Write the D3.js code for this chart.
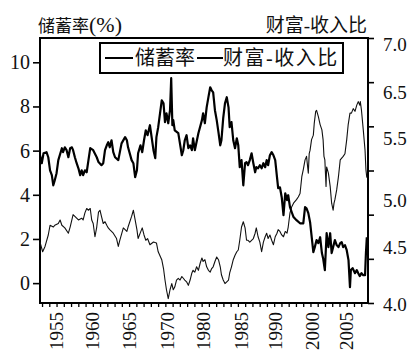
<!DOCTYPE html>
<html><head><meta charset="utf-8">
<script src="https://cdn.jsdelivr.net/npm/d3@7"></script>
<style>
html,body{margin:0;padding:0;background:#fff;}
svg{display:block;}
</style></head><body>
<svg id="chart" width="410" height="352"></svg>
<script>
// Personal saving rate (%) — [year, value]
const savings = [
[1953.0,5.79],[1953.3,5.43],[1953.6,5.88],[1954.1,5.93],[1954.4,5.70],[1954.7,5.11],[1955.0,4.89],[1955.25,4.43],
[1955.5,4.66],[1955.8,4.98],[1956.1,5.57],[1956.7,6.11],[1956.9,5.93],[1957.2,6.15],[1957.5,6.02],[1957.8,5.70],
[1958.1,6.11],[1958.4,6.15],[1958.6,6.02],[1958.9,5.70],[1959.2,5.43],[1959.5,5.20],[1959.8,4.89],[1960.05,5.11],
[1960.3,4.89],[1960.6,5.11],[1960.9,5.02],[1961.2,5.57],[1961.5,6.11],[1962.0,6.02],[1962.6,5.70],[1962.9,5.48],
[1963.4,5.34],[1963.7,5.43],[1964.0,6.02],[1964.3,6.24],[1964.55,6.38],[1964.8,6.15],[1965.1,6.47],[1965.4,5.93],
[1965.7,5.70],[1966.25,5.57],[1966.8,6.33],[1967.4,6.61],[1967.7,6.47],[1967.9,6.15],[1968.5,5.57],[1968.8,5.43],
[1969.1,4.80],[1969.4,5.11],[1969.6,5.88],[1970.0,6.24],[1970.3,5.93],[1970.6,6.47],[1970.9,6.92],[1971.2,6.70],
[1971.6,7.15],[1972.2,6.02],[1972.5,5.66],[1972.7,6.61],[1973.0,7.06],[1973.6,8.28],[1973.9,8.14],[1974.15,7.29],
[1974.4,7.69],[1974.7,7.24],[1975.0,7.83],[1975.2,9.28],[1975.4,7.15],[1975.55,7.38],[1975.8,6.92],[1976.4,6.79],
[1977.0,5.79],[1977.25,6.02],[1977.5,6.47],[1977.8,6.70],[1978.1,6.11],[1978.4,6.24],[1978.7,6.02],[1978.9,6.56],
[1979.2,6.02],[1979.8,6.79],[1980.4,7.38],[1980.6,7.69],[1980.9,7.24],[1981.2,7.96],[1981.5,8.42],[1981.8,8.87],
[1982.05,8.73],[1982.3,8.64],[1982.6,7.83],[1982.9,7.38],[1983.2,6.83],[1983.5,6.24],[1983.7,6.47],[1984.0,7.47],
[1984.3,8.14],[1984.6,8.42],[1984.9,7.96],[1985.1,7.06],[1985.4,7.29],[1985.7,6.47],[1986.0,6.11],[1986.3,6.56],
[1986.55,6.24],[1986.8,5.25],[1987.1,5.57],[1987.4,4.43],[1987.7,5.43],[1987.95,5.48],[1988.2,5.34],[1988.5,5.57],
[1988.8,5.88],[1989.1,5.43],[1989.4,5.02],[1989.6,5.25],[1989.9,5.20],[1990.2,5.34],[1990.5,5.20],[1990.8,5.43],
[1991.1,5.25],[1991.35,5.57],[1991.6,5.34],[1991.9,5.79],[1992.2,5.93],[1992.5,5.79],[1992.8,5.57],[1993.1,4.80],
[1993.3,4.30],[1993.6,4.34],[1993.9,3.89],[1994.2,3.08],[1994.5,4.07],[1994.8,3.76],[1995.0,3.98],[1995.3,3.44],
[1995.6,3.21],[1995.9,2.99],[1996.4,2.85],[1997.0,2.71],[1997.55,2.71],[1997.85,3.44],[1998.1,3.39],[1998.4,3.17],
[1998.7,2.76],[1999.25,1.40],[1999.5,1.63],[1999.8,1.95],[2000.1,1.81],[2000.4,2.08],[2000.7,1.36],[2000.9,1.13],
[2001.2,0.59],[2001.5,2.26],[2001.8,1.63],[2002.1,2.26],[2002.35,1.36],[2002.6,1.63],[2002.9,1.95],[2003.2,1.72],
[2003.5,1.63],[2003.8,1.81],[2004.05,1.86],[2004.3,1.63],[2004.6,1.72],[2004.9,1.49],[2005.2,1.04],[2005.45,-0.18],
[2005.6,0.59],[2005.9,0.68],[2006.3,0.45],[2006.6,0.59],[2006.85,0.45],[2007.1,0.32],[2007.4,0.45],[2007.7,0.36],
[2008.0,0.36],[2008.15,1.36],[2008.3,2.08]
];

// Household wealth-to-income ratio — [year, value]
const wealth = [
[1953.0,4.69],[1953.45,4.58],[1953.85,4.64],[1954.4,4.77],[1954.7,4.88],[1955.25,4.86],[1955.5,4.88],[1956.1,4.90],
[1956.4,4.94],[1956.7,4.88],[1957.2,4.85],[1957.8,4.79],[1958.1,4.86],[1958.6,5.00],[1958.9,4.98],[1959.5,4.94],
[1960.05,4.96],[1960.3,4.94],[1960.6,5.02],[1960.9,5.07],[1961.2,5.05],[1961.5,5.07],[1961.75,4.94],[1962.0,4.90],
[1962.3,4.75],[1962.6,4.86],[1962.9,5.03],[1963.15,5.05],[1963.4,4.98],[1963.7,4.90],[1964.0,4.92],[1964.3,4.88],
[1964.55,4.85],[1964.8,4.83],[1965.4,4.79],[1965.95,4.73],[1966.25,4.64],[1966.5,4.71],[1967.1,4.85],[1967.7,4.81],
[1967.9,4.86],[1968.5,4.98],[1968.8,5.05],[1969.1,4.94],[1969.4,4.83],[1969.6,4.73],[1970.0,4.80],[1970.3,4.85],
[1970.6,4.77],[1970.9,4.71],[1971.2,4.73],[1971.6,4.66],[1972.2,4.69],[1972.7,4.68],[1973.0,4.58],[1973.6,4.49],
[1973.9,4.39],[1974.15,4.26],[1974.4,4.15],[1974.7,4.05],[1975.0,4.15],[1975.3,4.22],[1975.55,4.15],[1975.8,4.18],
[1976.1,4.26],[1976.4,4.28],[1976.7,4.26],[1977.0,4.30],[1977.25,4.28],[1977.5,4.26],[1977.8,4.24],[1978.1,4.20],
[1978.4,4.26],[1978.7,4.34],[1978.9,4.37],[1979.2,4.35],[1979.5,4.41],[1979.8,4.37],[1980.1,4.45],[1980.4,4.51],
[1980.6,4.47],[1980.9,4.49],[1981.2,4.41],[1981.5,4.37],[1981.8,4.35],[1982.05,4.39],[1982.3,4.41],[1982.6,4.47],
[1982.9,4.52],[1983.2,4.49],[1983.5,4.41],[1983.7,4.32],[1984.0,4.26],[1984.3,4.22],[1984.6,4.24],[1984.9,4.26],
[1985.1,4.34],[1985.4,4.41],[1985.7,4.49],[1986.0,4.54],[1986.3,4.58],[1986.55,4.60],[1986.8,4.71],[1987.1,4.86],
[1987.4,4.92],[1987.7,4.85],[1987.95,4.71],[1988.2,4.71],[1988.5,4.69],[1988.8,4.71],[1989.1,4.73],[1989.4,4.79],
[1989.6,4.85],[1989.9,4.75],[1990.2,4.69],[1990.5,4.58],[1990.8,4.69],[1991.1,4.75],[1991.35,4.79],[1991.6,4.73],
[1991.9,4.77],[1992.2,4.71],[1992.5,4.66],[1992.8,4.75],[1993.1,4.79],[1993.3,4.83],[1993.6,4.81],[1993.9,4.77],
[1994.2,4.75],[1994.5,4.81],[1994.8,4.79],[1995.0,4.86],[1995.3,5.02],[1995.6,5.09],[1995.9,5.13],[1996.4,5.17],
[1996.7,5.20],[1997.0,5.24],[1997.3,5.43],[1997.55,5.51],[1997.85,5.62],[1998.1,5.66],[1998.4,5.47],[1998.55,5.69],
[1998.7,5.73],[1998.95,5.85],[1999.25,5.90],[1999.4,6.03],[1999.65,6.17],[1999.8,6.18],[2000.1,6.11],[2000.4,6.02],
[2000.7,5.96],[2000.9,5.85],[2001.05,5.66],[2001.2,5.62],[2001.4,5.32],[2001.5,5.54],[2001.8,5.47],[2002.1,5.32],
[2002.35,5.13],[2002.6,5.05],[2002.75,5.13],[2002.9,5.17],[2003.2,5.28],[2003.5,5.43],[2003.8,5.62],[2004.05,5.64],
[2004.3,5.66],[2004.6,5.69],[2004.9,5.85],[2005.15,6.02],[2005.45,6.15],[2005.7,6.15],[2006.0,6.20],[2006.3,6.17],
[2006.6,6.24],[2006.85,6.28],[2007.1,6.24],[2007.2,6.28],[2007.4,6.18],[2007.7,5.96],[2008.0,5.73],[2008.15,5.51],
[2008.3,5.42]
];

const seriesNames = ["储蓄率", "财富-收入比"];
const leftTitle = ["储蓄率", "(%)"];
const rightTitle = "财富-收入比";

const leftTicks = [0, 2, 4, 6, 8, 10];
const rightTicks = [4, 4.5, 5, 5.5, 6, 6.5, 7];
const rightLabels = ["7.0", "6.5", "5.5", "5.0", "4.5", "4.0"];
const rightLabelAt = [6.93, 6.38, 5.86, 5.16, 4.63, 3.98];
const yearLabels = ["1955", "1960", "1965", "1970", "1980", "1985", "1990", "2000", "2005"];
const yearLabelAt = [1955.8, 1961.9, 1968.1, 1974.5, 1980.6, 1987.0, 1992.9, 1999.0, 2004.9];

const serif = '"Liberation Serif","Times New Roman",serif';
const cjk = '"Liberation Serif","Noto Sans CJK SC",sans-serif';

const m = {left: 40, right: 368, top: 38, bottom: 303};
const svg = d3.select("#chart");

const x = d3.scaleLinear().domain([1953, 2008.5]).range([m.left, m.right]);
const yL = d3.scaleLinear().domain([-0.9, 11.1]).range([m.bottom, m.top]);
const yR = d3.scaleLinear().domain([4, 7]).range([m.bottom, m.top]);

// minor ticks along the time axis, five per labelled interval
const step = (yearLabelAt[yearLabelAt.length - 1] - yearLabelAt[0]) / (yearLabelAt.length - 1) / 5;
const minor = d3.range(yearLabelAt[0] - 2 * step, 2008.4, step);

// left axis
const gL = svg.append("g").attr("transform", `translate(${m.left},0)`)
  .call(d3.axisLeft(yL).tickValues(leftTicks).tickSize(7).tickPadding(3).tickFormat(d3.format("d")));
gL.select(".domain").remove();
gL.selectAll("line").attr("stroke", "#000").attr("stroke-width", 1.6);
gL.selectAll("text").attr("font-family", serif).attr("font-size", 20).attr("fill", "#111");

// right axis
const gR = svg.append("g").attr("transform", `translate(${m.right},0)`)
  .call(d3.axisRight(yR).tickValues(rightTicks).tickSize(6).tickFormat(""));
gR.select(".domain").remove();
gR.selectAll("line").attr("stroke", "#000").attr("stroke-width", 1.6);
svg.append("g").selectAll("text").data(rightLabels).join("text")
  .attr("x", m.right + 15).attr("y", (d, i) => yR(rightLabelAt[i])).attr("dy", "0.35em")
  .attr("font-family", serif).attr("font-size", 19).attr("fill", "#111").text(d => d);

// bottom axis
const gB = svg.append("g").attr("transform", `translate(0,${m.bottom})`)
  .call(d3.axisBottom(x).tickValues(minor).tickSize(4).tickFormat(""));
gB.select(".domain").remove();
gB.selectAll("line").attr("stroke", "#000").attr("stroke-width", 1.3);
svg.append("g").selectAll("text").data(yearLabels).join("text")
  .attr("transform", (d, i) => `translate(${x(yearLabelAt[i])},${m.bottom + 9}) rotate(-90)`)
  .attr("text-anchor", "end").attr("dy", "0.35em")
  .attr("font-family", serif).attr("font-size", 19).attr("fill", "#111").text(d => d);

// frame
svg.append("rect").attr("x", m.left).attr("y", m.top)
  .attr("width", m.right - m.left).attr("height", m.bottom - m.top)
  .attr("fill", "none").attr("stroke", "#000").attr("stroke-width", 2);

// series
const lineL = d3.line().x(d => x(d[0])).y(d => yL(d[1]));
const lineR = d3.line().x(d => x(d[0])).y(d => yR(d[1]));
svg.append("path").datum(wealth).attr("d", lineR)
  .attr("fill", "none").attr("stroke", "#111").attr("stroke-width", 1.1).attr("stroke-linejoin", "round");
svg.append("path").datum(savings).attr("d", lineL)
  .attr("fill", "none").attr("stroke", "#000").attr("stroke-width", 2.2).attr("stroke-linejoin", "round");

// axis titles
const lt = svg.append("text").attr("x", 38).attr("y", 32).attr("font-family", cjk).attr("fill", "#111");
lt.append("tspan").attr("font-size", 17).text(leftTitle[0]);
lt.append("tspan").attr("font-size", 22).text(leftTitle[1]);
svg.append("text").attr("x", 367).attr("y", 32).attr("text-anchor", "end").attr("font-family", cjk)
  .attr("font-size", 19).attr("fill", "#111").text(rightTitle);

// legend
const lg = svg.append("g");
lg.append("rect").attr("x", 100).attr("y", 43).attr("width", 243).attr("height", 30)
  .attr("fill", "#fff").attr("stroke", "#000").attr("stroke-width", 2);
const items = [{x0: 105, x1: 133, tx: 135, ls: 0}, {x0: 197, x1: 223, tx: 223, ls: 1.5}];
items.forEach((it, i) => {
  lg.append("line").attr("x1", it.x0).attr("x2", it.x1).attr("y1", 58).attr("y2", 58)
    .attr("stroke", "#000").attr("stroke-width", 2);
  lg.append("text").attr("x", it.tx).attr("y", 58).attr("dy", "0.36em").attr("letter-spacing", it.ls)
    .attr("font-family", cjk).attr("font-size", 20).attr("fill", "#111").text(seriesNames[i]);
});
</script>
</body></html>
